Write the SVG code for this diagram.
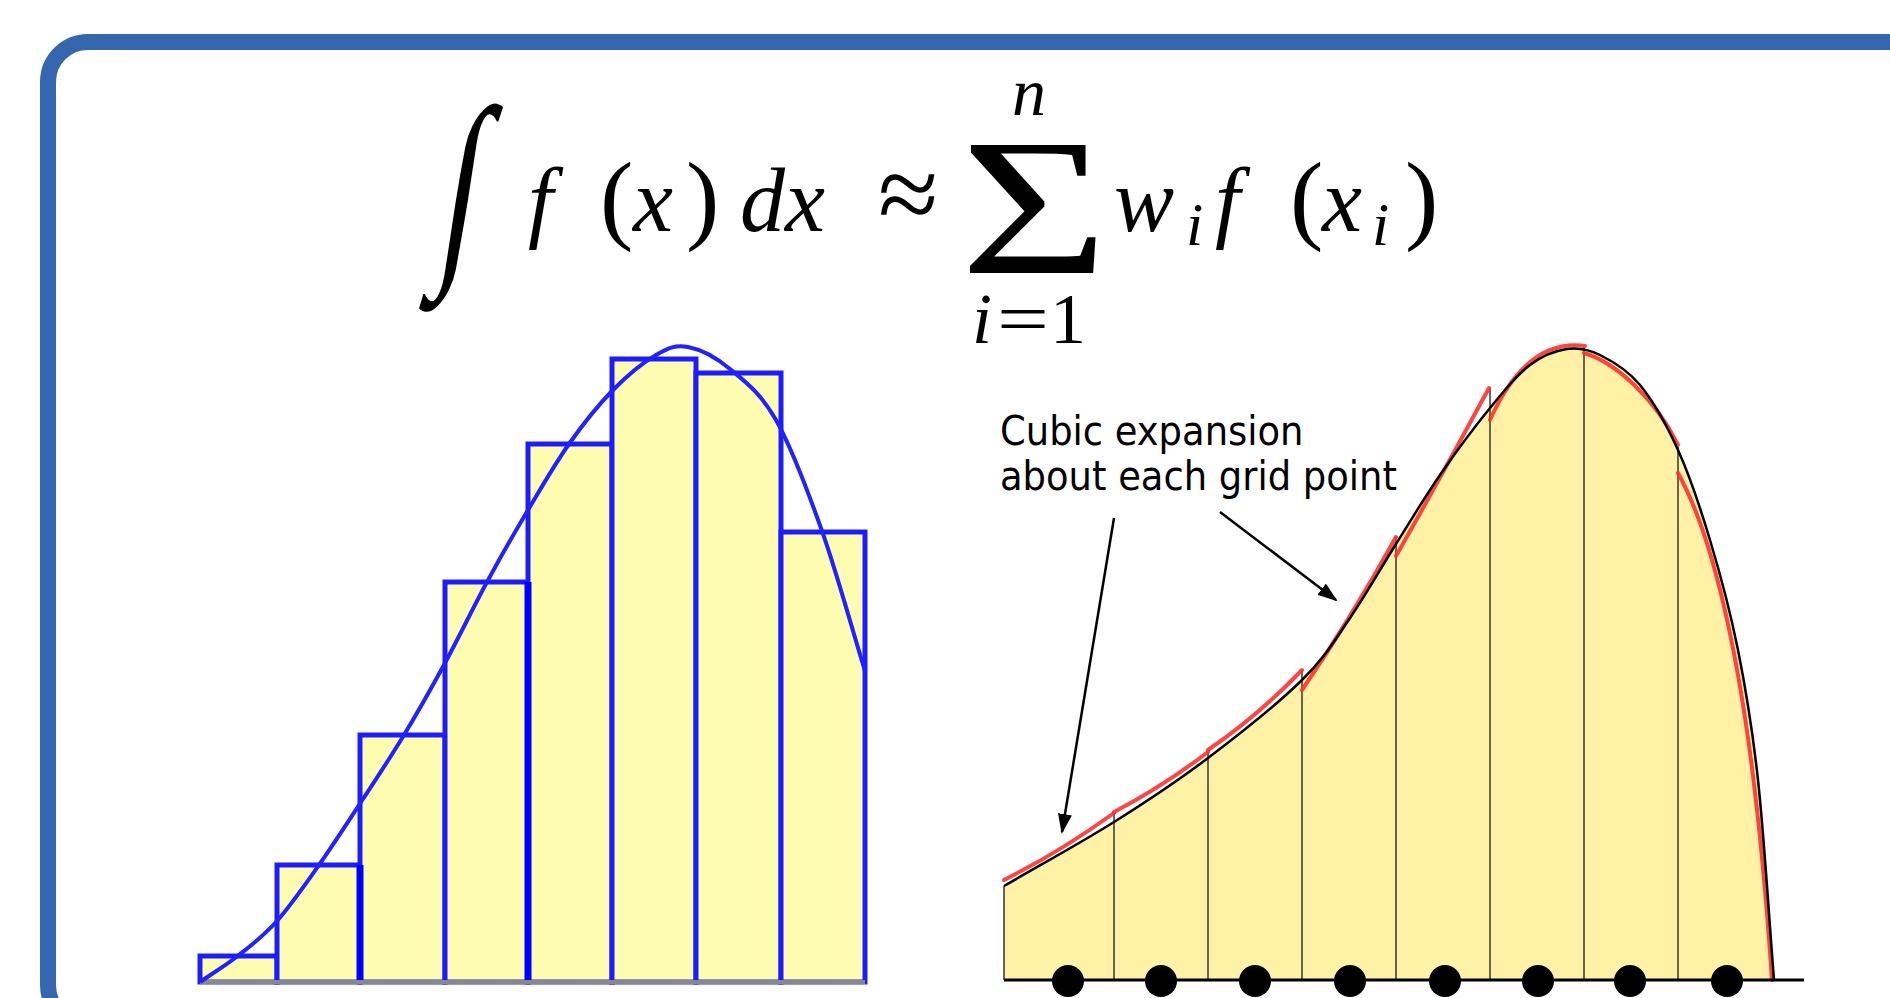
<svg xmlns="http://www.w3.org/2000/svg" width="1890" height="998" viewBox="0 0 1890 998">
<defs>
<style>
.m{font-family:"Liberation Serif","Times New Roman",serif;fill:#000}
.mi{font-family:"Liberation Serif","Times New Roman",serif;font-style:italic;fill:#000}
.lbl{font-family:"DejaVu Sans Condensed","DejaVu Sans",sans-serif;font-stretch:condensed;font-size:41px;fill:#000}
.bar{fill:#fdfcb0;stroke:#1e1eff;stroke-width:5}
.grid{stroke:#333;stroke-width:1.5}
.red{fill:none;stroke:#ff3030;stroke-width:4;stroke-linecap:round;opacity:0.9}
.arr{stroke:#000;stroke-width:2.5;fill:none;marker-end:url(#ah)}
</style>
<marker id="ah" viewBox="0 0 20 14" refX="18" refY="7" markerWidth="20" markerHeight="14" markerUnits="userSpaceOnUse" orient="auto">
<path d="M0,0 L20,7 L0,14 z" fill="#000"/>
</marker>
<filter id="soft" x="-5%" y="-5%" width="110%" height="110%"><feGaussianBlur stdDeviation="0.7"/></filter>
</defs>
<rect width="1890" height="998" fill="#fff"/>
<g id="frame">
<rect x="48" y="42" width="1900" height="983" rx="40" ry="40" fill="#fff" stroke="#3566ae" stroke-width="16"/>
</g>
<g id="formula">
<text class="m" x="432" y="255" font-size="212" transform="translate(462,206) skewX(-9) scale(0.65,1) translate(-462,-206)">∫</text>
<text class="mi" x="528" y="231" font-size="90">f</text>
<text class="m" x="600" y="231" font-size="100">(</text>
<text class="mi" x="633" y="231" font-size="90">x</text>
<text class="m" x="686" y="231" font-size="100">)</text>
<text class="mi" x="740" y="231" font-size="90">d</text>
<text class="mi" x="785" y="231" font-size="90">x</text>
<text class="m" x="878" y="231" font-size="110">≈</text>
<text class="m" x="0" y="0" font-size="196" transform="translate(960,273) scale(1.3,1)">Σ</text>
<text class="mi" x="1012" y="115" font-size="68">n</text>
<text class="mi" x="972" y="343" font-size="72">i</text>
<text class="m" x="997" y="343" font-size="72" textLength="52" lengthAdjust="spacingAndGlyphs">=</text>
<text class="m" x="1050" y="343" font-size="72">1</text>
<text class="mi" x="1114" y="231" font-size="90">w</text>
<text class="mi" x="1186" y="245" font-size="62">i</text>
<text class="mi" x="1215" y="231" font-size="90">f</text>
<text class="m" x="1290" y="231" font-size="100">(</text>
<text class="mi" x="1322" y="231" font-size="90">x</text>
<text class="mi" x="1372" y="245" font-size="62">i</text>
<text class="m" x="1405" y="231" font-size="100">)</text>
</g>
<g id="riemann" filter="url(#soft)">
<rect class="bar" x="200" y="956" width="77" height="26"/>
<rect class="bar" x="277" y="865" width="83" height="117"/>
<rect class="bar" x="360" y="735" width="85" height="247"/>
<rect class="bar" x="445" y="582" width="83" height="400"/>
<rect class="bar" x="528" y="444" width="84" height="538"/>
<rect class="bar" x="612" y="359" width="84" height="623"/>
<rect class="bar" x="696" y="373" width="85" height="609"/>
<rect class="bar" x="781" y="532" width="84" height="450"/>
<line x1="360" y1="865" x2="360" y2="982" stroke="#0000ff" stroke-width="7"/>
<line x1="528" y1="582" x2="528" y2="982" stroke="#0000ff" stroke-width="7"/>
<line x1="200" y1="982" x2="865" y2="982" stroke="#888" stroke-width="4"/>
<path d="M200,982 C213,973 226.2,965.2 239,955 C251.8,944.8 263.7,936 277,921 C290.3,906 304.7,885.3 319,865 C333.3,844.7 348.8,820.7 363,799 C377.2,777.3 390.3,757.7 404,735 C417.7,712.3 431.2,688.5 445,663 C458.8,637.5 473.2,607.5 487,582 C500.8,556.5 514.3,533 528,510 C541.7,487 555,463.8 569,444 C583,424.2 597.5,405.8 612,391 C626.5,376.2 643.3,362.3 656,355 C668.7,347.7 675.7,344.7 688,347 C700.3,349.3 715.3,356.8 730,369 C744.7,381.2 760.7,393 776,420 C791.3,447 807.2,489.2 822,531 C836.8,572.8 850.7,624.3 865,671" fill="none" stroke="#2020ff" stroke-width="4"/>
</g>
<g id="cubic">
<path d="M1004,886 C1040.7,864.7 1080,843.3 1114,822 C1148,800.7 1176.7,781.7 1208,758 C1239.3,734.3 1278.3,703.3 1302,680 C1325.7,656.7 1334.3,640.7 1350,618 C1365.7,595.3 1381,567.8 1396,544 C1411,520.2 1424.3,497.7 1440,475 C1455.7,452.3 1475,426.3 1490,408 C1505,389.7 1517.2,374.8 1530,365 C1542.8,355.2 1555.3,350.7 1567,349 C1578.7,347.3 1587.8,349 1600,355 C1612.2,361 1627,369.2 1640,385 C1653,400.8 1666.3,424.2 1678,450 C1689.7,475.8 1700,506.7 1710,540 C1720,573.3 1730,610 1738,650 C1746,690 1752,725 1758,780 C1764,835 1768.7,913.3 1774,980 L1004,980 Z" fill="#fff2a6"/>
<g class="grid">
<line x1="1004" y1="886" x2="1004" y2="980"/>
<line x1="1114" y1="813" x2="1114" y2="980"/>
<line x1="1208" y1="750" x2="1208" y2="980"/>
<line x1="1302" y1="670" x2="1302" y2="980"/>
<line x1="1396" y1="537" x2="1396" y2="980"/>
<line x1="1490" y1="388" x2="1490" y2="980"/>
<line x1="1584" y1="347" x2="1584" y2="980"/>
<line x1="1678" y1="447" x2="1678" y2="980"/>
</g>
<path class="red" d="M1004,880 Q1060,852 1114,813"/>
<path class="red" d="M1114,812 Q1162,787 1208,752"/>
<path class="red" d="M1208,750 Q1258,716 1302,670"/>
<path class="red" d="M1302,690 Q1350,620 1396,537"/>
<path class="red" d="M1396,556 Q1442,475 1489,388"/>
<path class="red" d="M1490,420 C1510,375 1540,340 1585,346"/>
<path class="red" d="M1584,353 C1615,362 1655,398 1678,445"/>
<path class="red" d="M1678,473 C1690,495 1702,525 1712,560 C1735,640 1757,760 1772,980"/>
<path d="M1004,886 C1040.7,864.7 1080,843.3 1114,822 C1148,800.7 1176.7,781.7 1208,758 C1239.3,734.3 1278.3,703.3 1302,680 C1325.7,656.7 1334.3,640.7 1350,618 C1365.7,595.3 1381,567.8 1396,544 C1411,520.2 1424.3,497.7 1440,475 C1455.7,452.3 1475,426.3 1490,408 C1505,389.7 1517.2,374.8 1530,365 C1542.8,355.2 1555.3,350.7 1567,349 C1578.7,347.3 1587.8,349 1600,355 C1612.2,361 1627,369.2 1640,385 C1653,400.8 1666.3,424.2 1678,450 C1689.7,475.8 1700,506.7 1710,540 C1720,573.3 1730,610 1738,650 C1746,690 1752,725 1758,780 C1764,835 1768.7,913.3 1774,980" fill="none" stroke="#000" stroke-width="2.5"/>
<line x1="1004" y1="980" x2="1804" y2="980" stroke="#000" stroke-width="3"/>
<g fill="#000">
<circle cx="1068" cy="981" r="16"/>
<circle cx="1161" cy="981" r="16"/>
<circle cx="1255" cy="981" r="16"/>
<circle cx="1350" cy="981" r="16"/>
<circle cx="1445" cy="981" r="16"/>
<circle cx="1538" cy="981" r="16"/>
<circle cx="1630" cy="981" r="16"/>
<circle cx="1727" cy="981" r="16"/>
</g>
</g>
<g id="label">
<text class="lbl" x="1000" y="445">Cubic expansion</text>
<text class="lbl" x="1000" y="490">about each grid point</text>
</g>
<g id="connectors">
<line class="arr" x1="1114" y1="518" x2="1062" y2="832"/>
<line class="arr" x1="1220" y1="512" x2="1336" y2="600"/>
</g>
</svg>
